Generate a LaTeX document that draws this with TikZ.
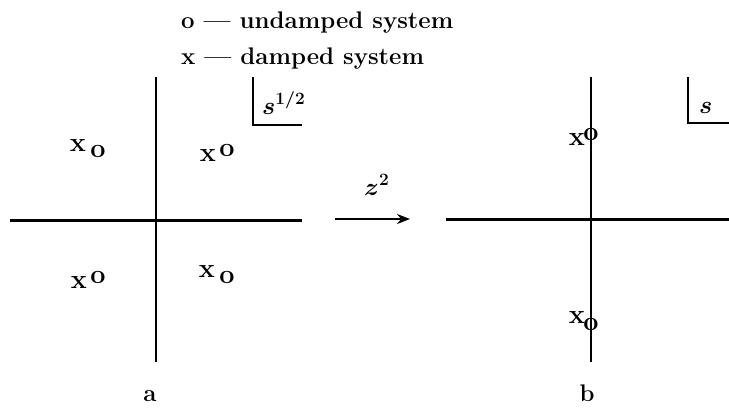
\documentclass[tikz,border=0pt]{standalone}
\usepackage{bm}
\usetikzlibrary{arrows.meta}
\begin{document}
\begin{tikzpicture}[x=1pt,y=-1pt,
  axisv/.style={line width=1.7pt},
  axish/.style={line width=3pt},
  cornerline/.style={line width=1.6pt},
  txt/.style={inner sep=0pt,font=\fontsize{24}{28}\selectfont\bfseries},
  mk/.style={inner sep=0pt,font=\fontsize{27}{30}\selectfont\bfseries},
  mlab/.style={inner sep=0pt,font=\fontsize{26}{30}\selectfont}]
\useasboundingbox (0,0) rectangle (729,408);
% legend
\node[txt,anchor=base west] (leg1) at (181,28) {o --- undamped system};
\node[txt,anchor=base west] (leg2) at (181,64) {x --- damped system};
% left panel axes
\coordinate (lvt) at (156,77);
\coordinate (lvb) at (156,362);
\coordinate (lhl) at (10,220);
\coordinate (lhr) at (302,220);
\draw[axisv] (lvt) -- (lvb);
\draw[axish] (lhl) -- (lhr);
% s^{1/2} corner
\coordinate (c1t) at (253,77);
\coordinate (c1c) at (253,125);
\coordinate (c1r) at (302,125);
\draw[cornerline] (c1t) -- (c1c) -- (c1r);
\node[mlab,anchor=base west] (s12) at (262,114) {$\bm{s^{1/2}}$};
% left markers
\node[mk] (x1) at (78,146) {x};
\node[mk] (o1) at (98,151) {o};
\node[mk] (x2) at (208,156) {x};
\node[mk] (o2) at (227,150) {o};
\node[mk] (x3) at (79,282) {x};
\node[mk] (o3) at (98,277) {o};
\node[mk] (x4) at (207,271) {x};
\node[mk] (o4) at (227,277) {o};
% arrow
\coordinate (as) at (335,219);
\coordinate (ae) at (410,219);
\draw[line width=2.6pt,-{Stealth[length=13pt,width=10pt]}] (as) -- (ae);
\node[mlab,anchor=base west] (z2) at (364,195) {$\bm{z^2}$};
% right panel axes
\coordinate (rvt) at (591,77);
\coordinate (rvb) at (591,362);
\coordinate (rhl) at (446,219);
\coordinate (rhr) at (729,219);
\draw[axisv] (rvt) -- (rvb);
\draw[axish] (rhl) -- (rhr);
% s corner
\coordinate (c2t) at (688,77);
\coordinate (c2c) at (688,123);
\coordinate (c2r) at (729,123);
\draw[cornerline] (c2t) -- (c2c) -- (c2r);
\node[mlab,anchor=base west] (sr) at (699,113) {$\bm{s}$};
% right markers
\node[mk] (x5) at (577,140) {x};
\node[mk] (o5) at (591,134) {o};
\node[mk] (x6) at (577,317) {x};
\node[mk] (o6) at (591,324) {o};
% labels
\node[txt,anchor=base] (la) at (150,401) {a};
\node[txt,anchor=base] (lb) at (587,401) {b};
\end{tikzpicture}
\end{document}
